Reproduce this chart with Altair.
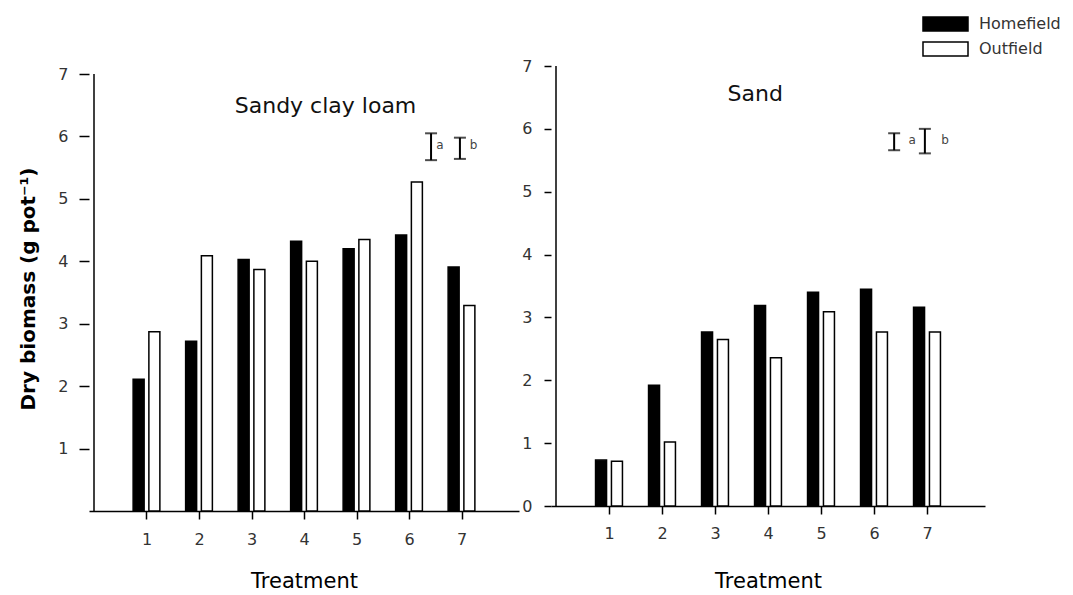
import altair as alt
import pandas as pd

# ---------------- data ----------------
treatment = [1, 2, 3, 4, 5, 6, 7]
series = ["Homefield", "Outfield"]
series_colors = ["black", "white"]

scl_homefield = [2.11, 2.72, 4.03, 4.32, 4.20, 4.42, 3.91]
scl_outfield = [2.87, 4.09, 3.87, 4.00, 4.35, 5.27, 3.29]
sand_homefield = [0.73, 1.92, 2.77, 3.19, 3.40, 3.45, 3.16]
sand_outfield = [0.71, 1.02, 2.65, 2.36, 3.09, 2.77, 2.77]

# LSD bars (a, b)
lsd_labels = ["a", "b"]
scl_lsd_x = [6.42, 6.97]
scl_lsd_low = [5.62, 5.64]
scl_lsd_high = [6.05, 5.98]
scl_letter_x = [6.59, 7.23]
scl_letter_y = [5.86, 5.86]
sand_lsd_x = [6.38, 6.96]
sand_lsd_low = [5.66, 5.61]
sand_lsd_high = [5.93, 6.00]
sand_letter_x = [6.72, 7.34]
sand_letter_y = [5.82, 5.82]

y_axis_top = 7

FONT = "DejaVu Sans"

legend = alt.Legend(
    title=None, orient="none", legendX=842, legendY=-56.5, padding=0,
    symbolType="M-1.667,-0.52H1.667V0.52H-1.667Z", symbolSize=729,
    symbolStrokeColor="black", symbolStrokeWidth=1.5, symbolOpacity=1,
    labelFont=FONT, labelFontSize=16, labelColor="#333", labelOffset=19,
    rowPadding=0,
)


def panel(home, out, lsd_x, lsd_low, lsd_high, letter_x, letter_y,
          name, name_x, name_y, y_values, y_title, y_tick, y_label_pad,
          x_label_pad, x_title_pad, width, height, y_max):
    bars_df = pd.DataFrame({
        "treatment": treatment * 2,
        "series": [series[0]] * len(treatment) + [series[1]] * len(treatment),
        "value": home + out,
    })
    lsd_df = pd.DataFrame({"lx": lsd_x, "low": lsd_low, "high": lsd_high})
    let_df = pd.DataFrame({"tx": letter_x, "ty": letter_y, "label": lsd_labels})
    name_df = pd.DataFrame({"nx": [name_x], "ny": [name_y], "name": [name]})

    xs = alt.Scale(domain=[0, 8], nice=False, zero=False)
    ys = alt.Scale(domain=[0, y_max], nice=False, zero=True)

    x_axis = alt.Axis(values=treatment, title="Treatment", tickSize=8,
                      labelPadding=x_label_pad, titlePadding=x_title_pad,
                      labelAngle=0, titleFontSize=21, titleFontWeight="normal")
    y_kwargs = dict(values=y_values, tickSize=y_tick, labelPadding=y_label_pad,
                    domain=False)
    if y_title:
        y_axis = alt.Axis(title=y_title, titleFontSize=20, titleFontWeight="bold",
                          titlePadding=19, **y_kwargs)
    else:
        y_axis = alt.Axis(title=None, **y_kwargs)

    enc_x = lambda f: alt.X(f, scale=xs, axis=x_axis)
    enc_y = lambda f: alt.Y(f, scale=ys, axis=y_axis)

    bars = alt.Chart(bars_df).transform_calculate(
        xpos="datum.treatment + (datum.series == 'Homefield' ? -0.15 : 0.15)"
    ).mark_bar(width=11, orient="vertical", stroke="black", strokeWidth=1.5).encode(
        x=enc_x("xpos:Q"),
        y=enc_y("value:Q"),
        fill=alt.Fill("series:N", scale=alt.Scale(domain=series, range=series_colors),
                      legend=legend),
    )

    # y-axis line from 0 to the top tick
    axis_df = pd.DataFrame({"ax": [0], "a0": [0], "a1": [y_axis_top]})
    axis_line = alt.Chart(axis_df).mark_rule(color="black", strokeWidth=1.5).encode(
        x=enc_x("ax:Q"), y=enc_y("a0:Q"), y2="a1:Q"
    )

    rules = alt.Chart(lsd_df).mark_rule(color="black", strokeWidth=2).encode(
        x=enc_x("lx:Q"), y=enc_y("low:Q"), y2="high:Q"
    )
    caps = alt.Chart(lsd_df).transform_fold(["low", "high"], as_=["end", "cy"]).mark_tick(
        color="black", orient="horizontal", size=12, thickness=2
    ).encode(x=enc_x("lx:Q"), y=enc_y("cy:Q"))
    letters = alt.Chart(let_df).mark_text(
        font=FONT, fontSize=12, color="#444", align="center", baseline="middle"
    ).encode(x=enc_x("tx:Q"), y=enc_y("ty:Q"), text="label:N")
    title_txt = alt.Chart(name_df).mark_text(
        font=FONT, fontSize=22, color="#111", align="center", baseline="alphabetic"
    ).encode(x=enc_x("nx:Q"), y=enc_y("ny:Q"), text="name:N")
    return alt.layer(bars, axis_line, rules, caps, letters, title_txt).properties(
        width=width, height=height
    )


# left panel sits 8 px lower than the right one in the reference: its scale
# reaches a little above 7 so both plot tops line up in the concat layout
left = panel(scl_homefield, scl_outfield, scl_lsd_x, scl_lsd_low, scl_lsd_high,
             scl_letter_x, scl_letter_y, "Sandy clay loam", 4.41, 6.37,
             [1, 2, 3, 4, 5, 6, 7], "Dry biomass (g pot\u207b\u00b9)", 10, 11,
             12, 23, 430, 445, 7 * 445 / 437)
right = panel(sand_homefield, sand_outfield, sand_lsd_x, sand_lsd_low, sand_lsd_high,
              sand_letter_x, sand_letter_y, "Sand", 3.76, 6.45,
              [0, 1, 2, 3, 4, 5, 6, 7], None, 7, 12,
              11, 29, 434, 440, 7)

chart = alt.hconcat(left, right, spacing=2).properties(
    padding={"left": 10, "top": 1, "right": 0, "bottom": 0}
).configure_view(stroke=None).configure_axis(
    domainColor="black", domainWidth=1.5, tickColor="black", tickWidth=1.5,
    labelFont=FONT, labelFontSize=16, labelColor="#333",
    titleFont=FONT, titleColor="black", grid=False,
)

chart.save("out.html", embed_options={"renderer": "svg", "actions": False})
